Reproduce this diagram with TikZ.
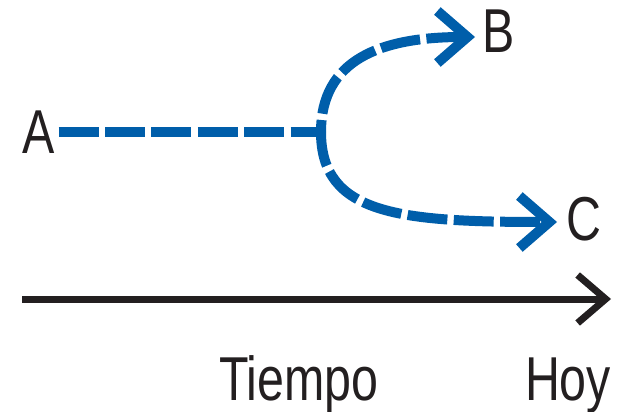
\documentclass[tikz,border=0pt]{standalone}
\usepackage{fontspec}
\usepackage{graphicx}
\setmainfont{Liberation Sans}
\usetikzlibrary{arrows.meta}
\definecolor{tblue}{RGB}{0,94,170}
\definecolor{tblack}{RGB}{35,31,32}
\newcommand\cnd[1]{\scalebox{0.78}[1]{#1}}
\begin{document}
\begin{tikzpicture}[x=0.5pt,y=-0.5pt,
  lbl/.style={inner sep=0pt,outer sep=0pt,text=tblack,font=\fontsize{31}{31}\selectfont},
  bdash/.style={draw=tblue,line width=5pt,dash pattern=on 20pt off 3.2pt},
  bbarb/.style={-{Straight Barb[length=15pt,width=26pt,line width=5pt]}},
  axis/.style={draw=tblack,line width=3.5pt,-{Straight Barb[length=14pt,width=24pt,line width=3.5pt]}}]
\useasboundingbox (0,0) rectangle (619,411);
% labels
\node[lbl,outer sep=2pt] (A) at (38.5,132) {\cnd{A}};
\node[lbl,anchor=base west] (B) at (482,53) {\cnd{B}};
\node[lbl,anchor=base west] (C) at (566,240) {\cnd{C}};
\node[lbl,anchor=base west] (T) at (219,400) {\cnd{Tiempo}};
\node[lbl,anchor=base west] (H) at (525,400) {\cnd{Hoy}};
% junction and tips
\coordinate (J) at (321,132);
\coordinate (tipB) at (475,37);
\coordinate (tipC) at (557,222);
\coordinate (ax0) at (22,299);
\coordinate (ax1) at (611,299);
% dashed connectors
\draw[bdash] (A.east) -- (J);
\draw[bdash,bbarb,dash phase=14pt] (J) .. controls (321,60) and (380,37) .. (tipB);
\draw[bdash,bbarb,dash phase=26pt] (J) .. controls (321,215) and (400,222) .. (tipC);
% time axis
\draw[axis] (ax0) -- (ax1);
\end{tikzpicture}
\end{document}
